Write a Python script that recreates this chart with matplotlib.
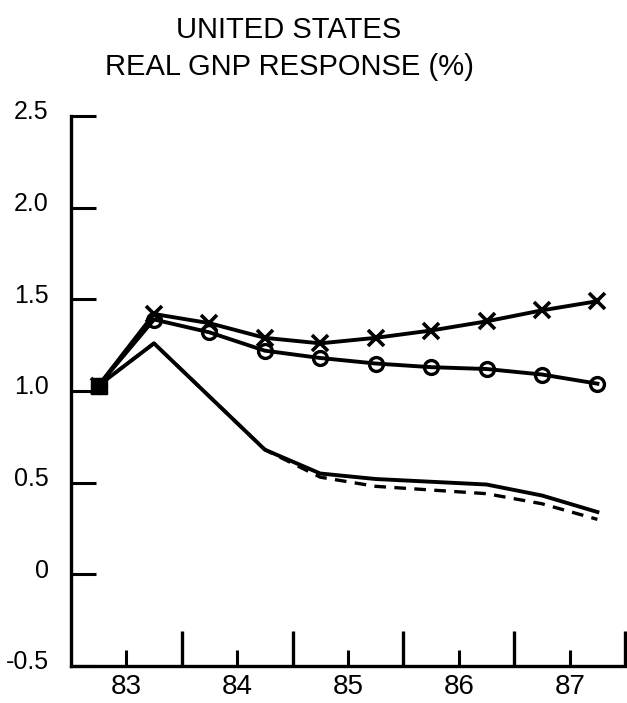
import numpy as np
import matplotlib
matplotlib.use('Agg')
import matplotlib.pyplot as plt
import matplotlib.transforms as mtransforms

plt.rcParams['font.family'] = ['Liberation Sans', 'DejaVu Sans']

# semi-annual points, 1983-1987
periods = [82.75, 83.25, 83.75, 84.25, 84.75, 85.25, 85.75, 86.25, 86.75, 87.25]
cross_series = [1.03, 1.42, 1.37, 1.29, 1.26, 1.29, 1.33, 1.38, 1.44, 1.49]
circle_series = [1.03, 1.39, 1.32, 1.22, 1.18, 1.15, 1.13, 1.12, 1.09, 1.04]
solid_series = [1.03, 1.26, 0.97, 0.68, 0.55, 0.52, 0.505, 0.49, 0.43, 0.34]
dashed_series = [1.03, 1.26, 0.97, 0.68, 0.53, 0.48, 0.46, 0.44, 0.385, 0.30]

year_ticks = [83, 84, 85, 86, 87]
year_labels = ['83', '84', '85', '86', '87']
half_ticks = [83.5, 84.5, 85.5, 86.5, 87.5]
y_ticks = [-0.5, 0, 0.5, 1.0, 1.5, 2.0, 2.5]
y_labels = ['-0.5', '0', '0.5', '1.0', '1.5', '2.0', '2.5']

fig = plt.figure(figsize=(6.27, 7.03), dpi=100)
ax = fig.add_axes([0.113, 0.0526, 0.884, 0.7824])

ax.plot(periods, dashed_series, color='black', lw=2.4, ls=(0, (3.5, 2.5)))
ax.plot(periods, solid_series, color='black', lw=2.8)
ax.plot(periods, circle_series, color='black', lw=2.8, marker='o', ms=10,
        mfc='none', mew=2.4)
ax.plot(periods, cross_series, color='black', lw=2.8, marker='x', ms=12,
        mew=2.6)
ax.plot(periods[0], cross_series[0], color='black', marker='s', ms=11)

ax.set_xlim(82.5, 87.5)
ax.set_ylim(-0.5, 2.5)

for side in ['top', 'right']:
    ax.spines[side].set_visible(False)
for side in ['left', 'bottom']:
    ax.spines[side].set_linewidth(2.4)

ax.set_xticks(year_ticks)
ax.set_xticklabels(year_labels, fontsize=20)
ax.set_xticks(half_ticks, minor=True)
ax.tick_params(axis='x', which='major', direction='in', length=11.5, width=2.2,
               pad=6)
ax.tick_params(axis='x', which='minor', direction='in', length=25, width=2.4)

ax.set_yticks(y_ticks)
ax.set_yticklabels(y_labels, fontsize=18)
ax.tick_params(axis='y', direction='in', length=18, width=2.2, pad=16)
offset = mtransforms.ScaledTranslation(0, 4.5 / 72, fig.dpi_scale_trans)
for lab in ax.get_yticklabels():
    lab.set_transform(lab.get_transform() + offset)

fig.text(0.461, 0.958, 'UNITED STATES', ha='center', va='center', fontsize=21)
fig.text(0.461, 0.905, 'REAL GNP RESPONSE (%)', ha='center', va='center',
         fontsize=21)

fig.savefig('out.png', dpi=100)
